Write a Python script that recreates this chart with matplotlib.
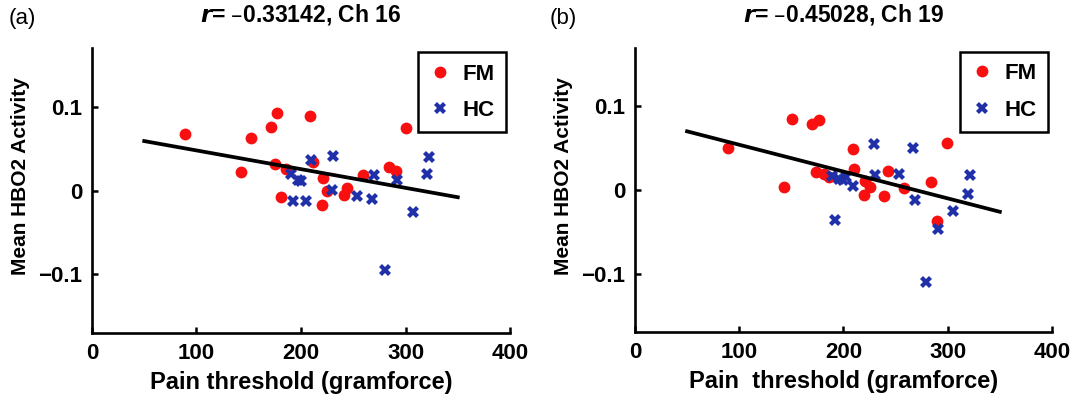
#! /usr/bin/env python
# scatter of HBO2 activity against pain threshold, two channels

import numpy as np
import matplotlib.pyplot as plt

plt.rcParams['font.family'] = ['Liberation Sans', 'DejaVu Sans']

# panel (a): channel 16
fm_x_a = [89, 152, 171, 177, 209, 300, 143, 175, 186, 211, 181, 221, 225, 220, 241, 244, 259, 284, 291]
fm_y_a = [0.067, 0.063, 0.076, 0.093, 0.089, 0.075, 0.022, 0.032, 0.026, 0.034, -0.008, 0.015, -0.001,
          -0.017, -0.005, 0.003, 0.018, 0.028, 0.023]
hc_x_a = [210, 231, 190, 197, 200, 192, 205, 230, 254, 268, 270, 292, 307, 280, 322, 321]
hc_y_a = [0.037, 0.041, 0.020, 0.013, 0.011, -0.013, -0.013, 0.001, -0.007, -0.010, 0.018, 0.012,
          -0.026, -0.095, 0.040, 0.020]
fit_x_a = [50, 350]
fit_y_a = [0.059, -0.008]

# panel (b): channel 19
fm_x_b = [89, 151, 170, 177, 143, 209, 299, 174, 181, 186, 210, 221, 225, 220, 239, 243, 258, 284, 290]
fm_y_b = [0.050, 0.085, 0.079, 0.083, 0.004, 0.049, 0.056, 0.022, 0.019, 0.016, 0.025, 0.011, 0.004,
          -0.006, -0.007, 0.023, 0.002, 0.010, -0.037]
hc_x_b = [229, 267, 189, 196, 202, 200, 209, 230, 253, 269, 192, 291, 305, 279, 321, 319]
hc_y_b = [0.055, 0.050, 0.017, 0.013, 0.015, 0.012, 0.005, 0.018, 0.019, -0.012, -0.036, -0.047,
          -0.025, -0.110, 0.018, -0.005]
fit_x_b = [50, 350]
fit_y_b = [0.070, -0.026]

titles = ['$\\mathbfit{r}$= \u20130.33142, Ch 16', '$\\mathbfit{r}$= \u20130.45028, Ch 19']
xlabels = ['Pain threshold (gramforce)', 'Pain  threshold (gramforce)']
panel_tags = ['(a)', '(b)']

red = '#f81010'
blue = '#2030a8'

fig = plt.figure(figsize=(10.72, 4.04), dpi=100)
ax_a = fig.add_axes([0.0858, 0.1757, 0.390, 0.7054])
ax_b = fig.add_axes([0.5923, 0.1770, 0.389, 0.7054])

data = [(ax_a, fm_x_a, fm_y_a, hc_x_a, hc_y_a, fit_x_a, fit_y_a),
        (ax_b, fm_x_b, fm_y_b, hc_x_b, hc_y_b, fit_x_b, fit_y_b)]

for i, (ax, fx, fy, hx, hy, lx, ly) in enumerate(data):
    ax.plot(fx, fy, 'o', color=red, markersize=8.5, markeredgewidth=0, label='FM', zorder=3)
    ax.plot(hx, hy, 'X', color=blue, markersize=8, markeredgewidth=0, label='HC', zorder=3)
    ax.plot(lx, ly, '-', color='black', linewidth=2.7, zorder=4)

    ax.set_xlim(0, 400)
    ax.set_ylim(-0.17, 0.17)
    ax.set_xticks([0, 100, 200, 300, 400])
    ax.set_yticks([-0.1, 0, 0.1])
    ax.set_yticklabels(['\u22120.1', '0', '0.1'])
    ax.tick_params(direction='in', length=4, width=1.8, labelsize=16, pad=7)
    for lab in ax.get_xticklabels() + ax.get_yticklabels():
        lab.set_fontweight('bold')
    ax.spines['top'].set_visible(False)
    ax.spines['right'].set_visible(False)
    ax.spines['left'].set_linewidth(1.9)
    ax.spines['bottom'].set_linewidth(1.9)

    ax.set_title(titles[i], fontsize=16.5, fontweight='bold', pad=19)
    ax.set_xlabel(xlabels[i], fontsize=17, fontweight='bold', labelpad=5)
    ax.set_ylabel('Mean HBO2 Activity', fontsize=15, fontweight='bold')
    ax.yaxis.set_label_coords(-0.148, 0.55)

    leg = ax.legend(loc='upper right', bbox_to_anchor=(1.0, 1.0), prop={'weight': 'bold', 'size': 16},
                    fancybox=False, framealpha=1, edgecolor='black', handlelength=1.0,
                    handletextpad=0.5, borderpad=0.5, labelspacing=0.7, borderaxespad=0.2)
    leg.get_frame().set_linewidth(1.8)

fig.text(0.008, 0.955, panel_tags[0], fontsize=16, va='center')
fig.text(0.513, 0.955, panel_tags[1], fontsize=16, va='center')

plt.savefig('out.png', dpi=100)
